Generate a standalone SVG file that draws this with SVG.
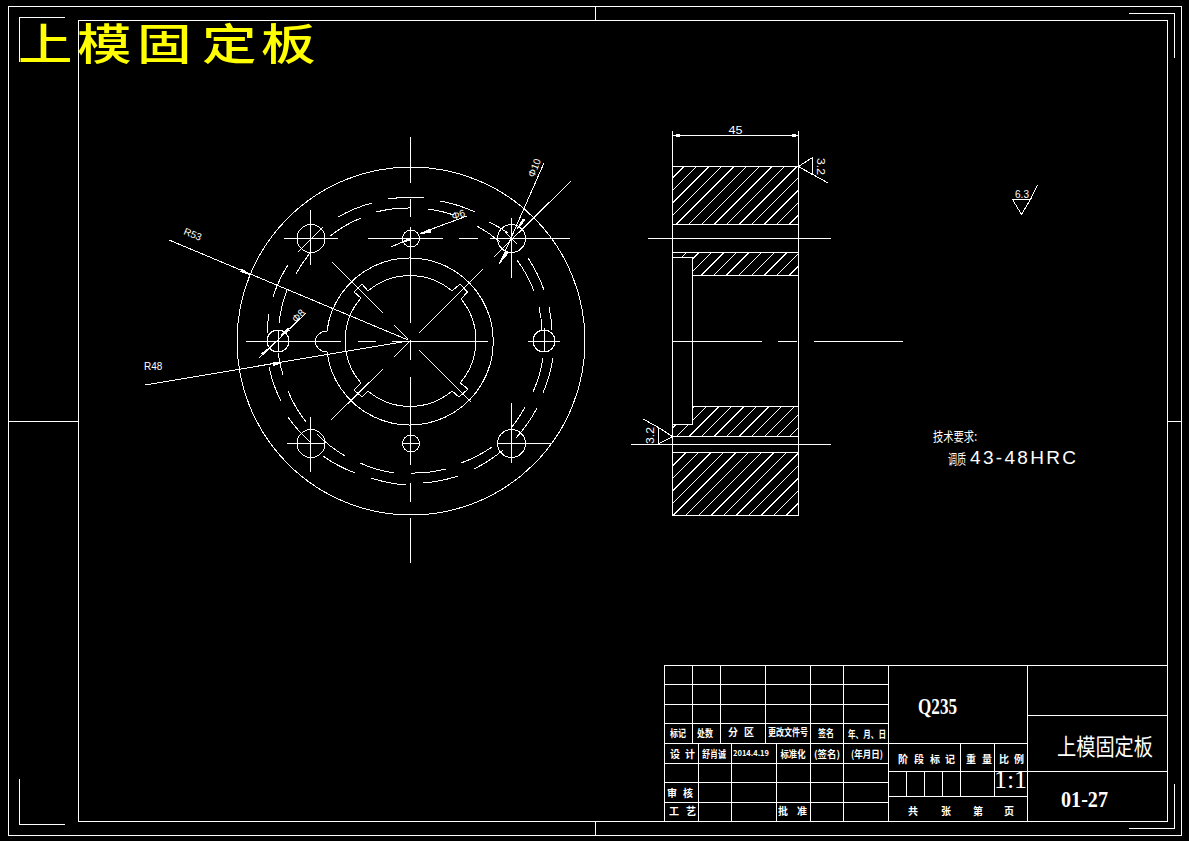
<svg xmlns="http://www.w3.org/2000/svg" width="1189" height="841" viewBox="0 0 1189 841">
<style>
.l,.a,.h{fill:none;stroke:#fff;stroke-width:1;shape-rendering:crispEdges}
.ar{fill:#fff;stroke:#fff;stroke-width:1;shape-rendering:crispEdges}
.d{font-family:"Liberation Sans",sans-serif;fill:#fff;font-size:10px}
.c{font-family:"Noto Sans CJK SC",sans-serif;fill:#fff;font-size:10px;font-weight:700;text-anchor:middle}
.s{font-family:"Liberation Serif",serif;fill:#fff}
</style>
<defs>
<clipPath id="ct"><rect x="672.5" y="166.5" width="126" height="58"/></clipPath>
<clipPath id="cb"><rect x="672.5" y="452.5" width="126" height="63"/></clipPath>
<clipPath id="cm"><path d="M672.5 252.5H798.5V275.5H692.5V257.5H672.5Z"/></clipPath>
<clipPath id="cn"><path d="M692.5 406.5H798.5V436.5H672.5V424.5H692.5Z"/></clipPath>
</defs>
<rect width="1189" height="841" fill="#000"/>
<g id="frame" class="l">
<rect x="8.5" y="6.5" width="1173" height="829"/>
<rect x="78.5" y="20.5" width="1089" height="801"/>
<path d="M595.5 6.5V20.5M595.5 821.5V835.5M8.5 421.5H78.5M1167.5 421.5H1181.5"/>
<path d="M19.5 62V17.5H65M1129 13.5H1174.5V58M19.5 779V824.5H65M1129 828.5H1174.5V784"/>
</g>
<g id="title-big"><text transform="translate(0 60) scale(1.09 .87)" x="16.500 70.600 125.700 185.300 239.400" y="0" font-family="Noto Sans CJK SC, sans-serif" font-size="50" font-weight="500" fill="#ff0">上模固定板</text></g>
<g id="front-view">
<circle class="a" cx="411" cy="341" r="174"/>
<path class="a" d="M327 331A83.500 83.500 0 1 1 327 352A12 12 0 0 1 315 341A12 12 0 0 1 327 331"/>
<path class="a" d="M368 291A65 65 0 0 1 452 291L460 284L467.500 292L461 299A65 65 0 0 1 460 383L468 389L459 397L452 391A65 65 0 0 1 368 391L362 397L354 390L361 383A65 65 0 0 1 361 298L354 292L362 284Z"/>
<g id="dash-arcs" class="a">
<path d="M338 217A144 144 0 0 1 372 203M330 236A132 132 0 0 1 361 218M376 212A132 132 0 0 1 410 208M388 199A144 144 0 0 1 424 198M273 297A132 132 0 0 1 288 265M279 323A132 132 0 0 1 287 290M296 274A132 132 0 0 1 310 253M267 333A144 144 0 0 1 269 314"/>
<path d="M440 201A144 144 0 0 1 475 212M428 209A132 132 0 0 1 454 215M477 226A132 132 0 0 1 500 242M489 222A144 144 0 0 1 508 233M517 260A132 132 0 0 1 534 291M528 258A144 144 0 0 1 544 290M539 307A132 132 0 0 1 542 330M549 307A144 144 0 0 1 552 330"/>
<path d="M543 358A132 132 0 0 1 533 392M553 358A144 144 0 0 1 543 393M525 407A132 132 0 0 1 512 427M537 408A144 144 0 0 1 516 438M492 447A132 132 0 0 1 461 463M503 450A144 144 0 0 1 474 469"/>
<path d="M446 469A132 132 0 0 1 410 473M458 476A144 144 0 0 1 423 483M394 473A132 132 0 0 1 360 463M406 485A144 144 0 0 1 371 478M345 456A132 132 0 0 1 317 434M355 473A144 144 0 0 1 323 456M306 422A132 132 0 0 1 288 391M310 442A144 144 0 0 1 288 417M281 401A132 132 0 0 1 269 367M283 375A144 144 0 0 1 278 353"/>
</g>
<circle class="a" cx="311" cy="238.500" r="14"/>
<circle class="a" cx="511.500" cy="238.500" r="14"/>
<circle class="a" cx="311" cy="443.500" r="14"/>
<circle class="a" cx="511.500" cy="443.500" r="14"/>
<circle class="a" cx="411" cy="238.500" r="8.500"/>
<circle class="a" cx="411" cy="443.500" r="8.500"/>
<circle class="a" cx="278" cy="341" r="11"/>
<circle class="a" cx="544" cy="341" r="11"/>
<g id="center-lines" class="l">
<path d="M410.500 137V183M410.500 199V217M410.500 227V323M410.500 340V360M410.500 377V465M410.500 483V502M410.500 518V563"/>
<path d="M246 341.500H341M358 341.500H376M392 341.500H488M528 341.500H560"/>
<path d="M368 238.500H443M459 238.500H478M490 238.500H570M284 238.500H338"/>
<path d="M310.500 210V265M511.500 218V278M287 443.500H325M310.500 417V472M511.500 403V463M498 443.500H552M402 443.500H420M278.500 330V352M544.500 328V352"/>
</g>
<path class="a" d="M332 262L383 313M394 325L408 339M483 269L419 333M383 369L331 420M394 357L409 342M419 350L471 402M505 232L517 244M323 227L298 252"/>
</g>
<g id="dims-front">
<path class="a" d="M169 240L408 340M145 385L408 341M306 313L259 358M467 216L421 233M400 243L391 247M544 163L500 263M571 181L494 257"/>
<path class="ar" d="M250 274.500L241 271.500L242 269.500ZM282 362.500L273 365.500L273 362.500ZM281 335.500L288 328.500L289 330.500ZM271 347L263 355L261.500 353.500ZM420 234L430 229L431 232ZM400 243L410 238L411 240ZM517 229L523 219L525 220ZM499 264L506 252L508 253Z"/>
<text class="d" transform="translate(183 234) rotate(22)">R53</text>
<text class="d" x="144" y="370">R48</text>
<text class="d" transform="translate(296 323) rotate(-45)">Φ8</text>
<text class="d" transform="translate(453 220) rotate(-18)">Φ6</text>
<text class="d" transform="translate(534 178) rotate(-68)">Φ10</text>
</g>
<g id="side-view">
<path class="l" d="M672.500 131V515.500H798.500V131M672.500 166.500H798.500M672.500 224.500H798.500M648 238.500H831M672.500 252.500H798.500M692.500 275.500H798.500M672.500 257.500H692.500V424.500H672.500M692.500 406.500H798.500M672.500 436.500H798.500M631 444.500H831M672.500 452.500H798.500M672.500 341.500H762M778 341.500H797M814 341.500H903"/>
<g class="h" clip-path="url(#ct)"><path d="M626 224.500l58-58M638.550 224.500l58-58M651.100 224.500l58-58M663.650 224.500l58-58M676.200 224.500l58-58M688.750 224.500l58-58M701.300 224.500l58-58M713.850 224.500l58-58M726.400 224.500l58-58M738.950 224.500l58-58M751.500 224.500l58-58M764.050 224.500l58-58M776.600 224.500l58-58M789.150 224.500l58-58"/></g>
<g class="h" clip-path="url(#cb)"><path d="M623 515.500l63-63M635.550 515.500l63-63M648.100 515.500l63-63M660.650 515.500l63-63M673.200 515.500l63-63M685.750 515.500l63-63M698.300 515.500l63-63M710.850 515.500l63-63M723.400 515.500l63-63M735.950 515.500l63-63M748.500 515.500l63-63M761.050 515.500l63-63M773.600 515.500l63-63M786.150 515.500l63-63"/></g>
<g class="h" clip-path="url(#cm)"><path d="M663.450 275.500l23-23M676 275.500l23-23M688.550 275.500l23-23M701.100 275.500l23-23M713.650 275.500l23-23M726.200 275.500l23-23M738.750 275.500l23-23M751.300 275.500l23-23M763.850 275.500l23-23M776.400 275.500l23-23M788.950 275.500l23-23"/></g>
<g class="h" clip-path="url(#cn)"><path d="M663.850 436.500l30-30M676.400 436.500l30-30M688.950 436.500l30-30M701.500 436.500l30-30M714.050 436.500l30-30M726.600 436.500l30-30M739.150 436.500l30-30M751.700 436.500l30-30M764.250 436.500l30-30M776.800 436.500l30-30M789.350 436.500l30-30"/></g>
<path class="l" d="M672.500 135.500H798.500"/>
<path class="ar" d="M676 134.500h3v2h-3ZM792 134.500h3v2h-3Z"/>
<text class="d" x="735.500" y="134" text-anchor="middle" style="font-size:11.500px" textLength="14" lengthAdjust="spacingAndGlyphs">45</text>
<path class="a" d="M798.500 166.500L812.500 157.500V174.500L798.500 166.500L828 183M672.500 436.500L658.500 427.500V444L672.500 436.500M658.500 427.500L643 419"/>
<text class="d" transform="translate(817 158) rotate(90)" textLength="17" lengthAdjust="spacingAndGlyphs">3.2</text>
<text class="d" transform="translate(654 444) rotate(-90)" textLength="17" lengthAdjust="spacingAndGlyphs">3.2</text>
</g>
<g id="roughness">
<path class="a" d="M1012.500 199.500H1030.500L1021.500 214.500L1012.500 199.500M1030.500 199.500L1037.500 185"/>
<text class="d" x="1022" y="198" text-anchor="middle">6.3</text>
</g>
<g id="tech-notes">
<text x="933" y="441" font-family="Noto Sans CJK SC, sans-serif" font-size="13" fill="#fff" textLength="44" lengthAdjust="spacingAndGlyphs">技术要求:</text>
<text transform="translate(948 464) scale(.65 1)" font-family="Noto Sans CJK SC, sans-serif" font-size="14" fill="#fff">调质</text>
<text x="970" y="464" font-family="Liberation Sans, sans-serif" font-size="19" fill="#fff" textLength="106" lengthAdjust="spacing">43-48HRC</text>
</g>
<g id="title-block">
<path class="l" d="M664.500 665.500H1167.500V821.500H664.500ZM664.500 684.500H888.500M664.500 704.500H888.500M664.500 723.500H888.500M664.500 743.500H1027.500M664.500 763.500H888.500M664.500 782.500H888.500M664.500 802.500H888.500M692.500 665.500V743.500M720.500 665.500V743.500M765.500 665.500V743.500M810.500 665.500V821.500M843.500 665.500V821.500M888.500 665.500V821.500M698.500 743.500V821.500M731.500 743.500V821.500M776.500 743.500V821.500M1027.500 665.500V821.500M1027.500 715.500H1167.500M888.500 771.500H1167.500M888.500 796.500H1027.500M960.500 743.500V796.500M994.500 743.500V796.500M906.500 771.500V796.500M924.500 771.500V796.500M942.500 771.500V796.500"/>
<g>
<text class="c" x="678" y="737" textLength="16" lengthAdjust="spacingAndGlyphs">标记</text>
<text class="c" x="705" y="737" textLength="16" lengthAdjust="spacingAndGlyphs">处数</text>
<text class="c" x="733 749" y="736">分区</text>
<text class="c" x="788" y="736" textLength="40" lengthAdjust="spacingAndGlyphs">更改文件号</text>
<text class="c" x="826" y="737" textLength="16" lengthAdjust="spacingAndGlyphs">签名</text>
<text class="c" x="867" y="738" textLength="38" lengthAdjust="spacingAndGlyphs">年、月、日</text>
<text class="c" x="675 690" y="758">设计</text>
<text class="c" x="714" y="758" textLength="24" lengthAdjust="spacingAndGlyphs">舒肖诚</text>
<text class="c" x="751" y="756" style="font-size:8px" textLength="36" lengthAdjust="spacingAndGlyphs">2014.4.19</text>
<text class="c" x="793" y="758" textLength="25" lengthAdjust="spacingAndGlyphs">标准化</text>
<text class="c" x="827" y="758" textLength="26" lengthAdjust="spacingAndGlyphs">(签名)</text>
<text class="c" x="867" y="758" textLength="32" lengthAdjust="spacingAndGlyphs">(年月日)</text>
<text class="c" x="672 688" y="797">审核</text>
<text class="c" x="674 691" y="815">工艺</text>
<text class="c" x="783 802" y="815">批准</text>
<text class="c" x="903 919 935 950" y="763">阶段标记</text>
<text class="c" x="971 987" y="763">重量</text>
<text class="c" x="1004 1019" y="763">比例</text>
<text class="c" x="913 946 978 1009" y="815">共张第页</text>
</g>
<text class="s" x="918" y="714" font-size="24" font-weight="700" textLength="39" lengthAdjust="spacingAndGlyphs">Q235</text>
<text class="s" x="994" y="788" font-size="26" textLength="33" lengthAdjust="spacing">1:1</text>
<text x="1057" y="755" font-family="Noto Sans CJK SC, sans-serif" font-size="23" fill="#fff" textLength="96" lengthAdjust="spacingAndGlyphs">上模固定板</text>
<text class="s" x="1061" y="807" font-size="24" font-weight="700" textLength="47" lengthAdjust="spacingAndGlyphs">01-27</text>
</g>
</svg>
